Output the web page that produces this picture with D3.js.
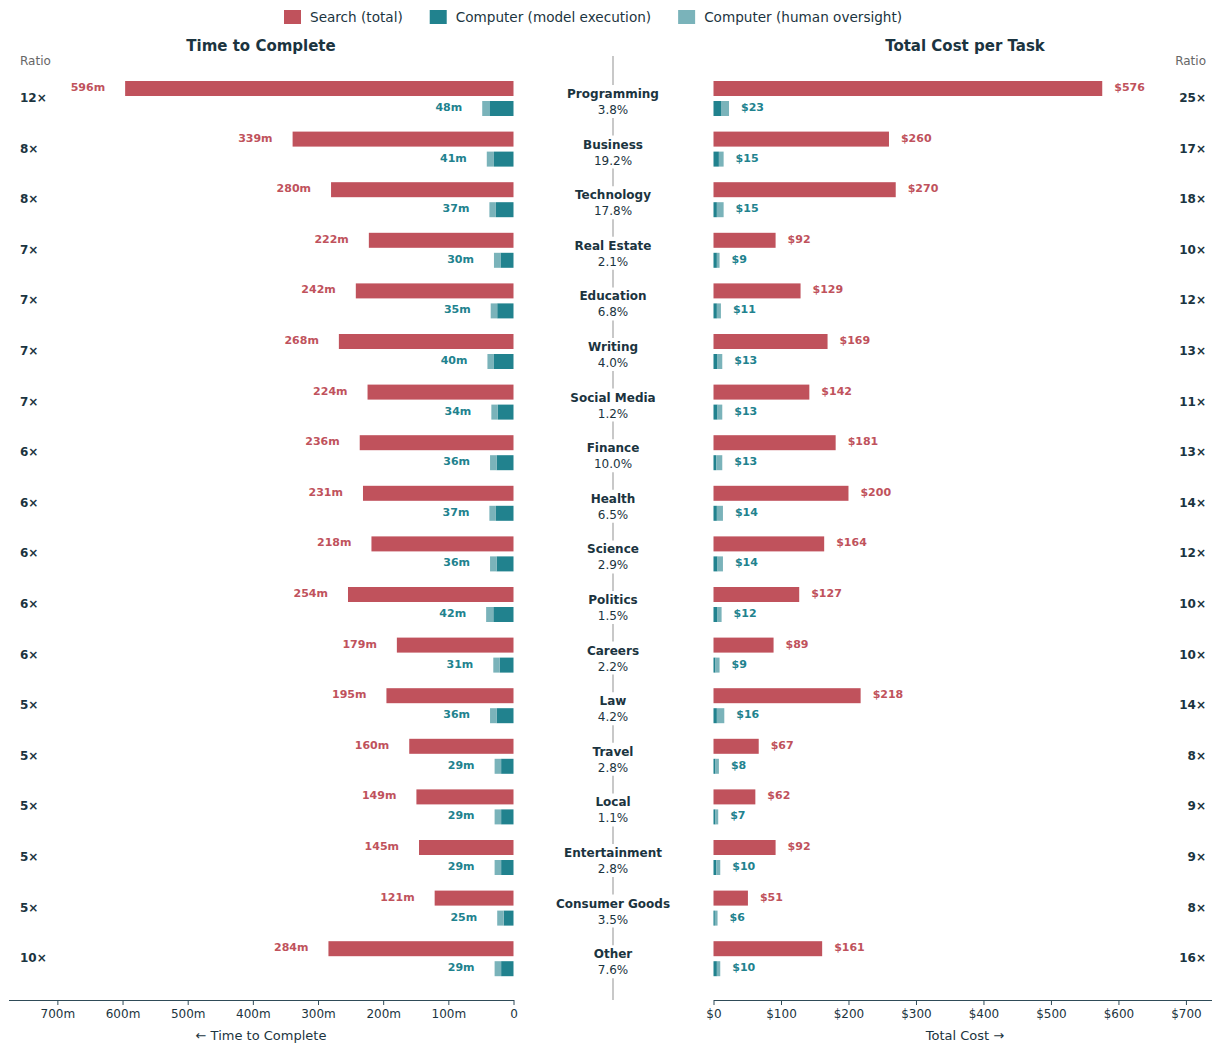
<!DOCTYPE html>
<html>
<head>
<meta charset="utf-8">
<script src="https://cdn.jsdelivr.net/npm/d3@7"></script>
<style>
  html, body { margin: 0; padding: 0; background: #fff; }
  svg { display: block; font-family: "DejaVu Sans", sans-serif; }
</style>
</head>
<body>
<svg id="chart" width="1212" height="1046"></svg>
<script>
const categories = ["Programming","Business","Technology","Real Estate","Education","Writing","Social Media","Finance","Health","Science","Politics","Careers","Law","Travel","Local","Entertainment","Consumer Goods","Other"];
const shares = ["3.8%","19.2%","17.8%","2.1%","6.8%","4.0%","1.2%","10.0%","6.5%","2.9%","1.5%","2.2%","4.2%","2.8%","1.1%","2.8%","3.5%","7.6%"];
const searchTime = [596,339,280,222,242,268,224,236,231,218,254,179,195,160,149,145,121,284];
const compModelTime = [37,30,27,20,25,30,24,26,27,26,31,21,26,19,19,19,15,19];
const compOversightTime = [11,11,10,10,10,10,10,10,10,10,11,10,10,10,10,10,10,10];
const searchCost = [576,260,270,92,129,169,142,181,200,164,127,89,218,67,62,92,51,161];
const compModelCost = [12,8,5,5,5,6,6,4,5,6,6,3,5,3,3,4,2,5];
const compOversightCost = [11,7,10,4,6,7,7,9,9,8,6,6,11,5,4,6,4,5];
const timeRatio = ["12×","8×","8×","7×","7×","7×","7×","6×","6×","6×","6×","6×","5×","5×","5×","5×","5×","10×"];
const costRatio = ["25×","17×","18×","10×","12×","13×","11×","13×","14×","12×","10×","10×","14×","8×","9×","9×","8×","16×"];
const timeTicks = [0,100,200,300,400,500,600,700];
const costTicks = [0,100,200,300,400,500,600,700];
const legendLabels = ["Search (total)","Computer (model execution)","Computer (human oversight)"];

const C_RED = "#c0525c", C_TEAL = "#21828e", C_LIGHT = "#7ab3ba";
const C_TEXT = "#1b3440", C_AXIS = "#2f4b58";

const svg = d3.select("#chart");

const xL = d3.scaleLinear().domain([0, 775]).range([513.5, 8.5]);
const xR = d3.scaleLinear().domain([0, 749]).range([713.5, 1219]);
const y = d3.scaleBand().domain(categories).range([73, 73 + 18 * 50.6]);
const BAR_H = 15, RED_OFF = 8, TEAL_OFF = 28;

const rows = categories.map((c, i) => ({
  c, i, share: shares[i],
  st: searchTime[i], mt: compModelTime[i], ot: compOversightTime[i],
  sc: searchCost[i], mc: compModelCost[i], oc: compOversightCost[i],
  tr: timeRatio[i], cr: costRatio[i]
}));

// Legend
const legColors = [C_RED, C_TEAL, C_LIGHT];
const leg = svg.append("g");
let lx = 284;
legendLabels.forEach((lab, i) => {
  leg.append("rect").attr("x", lx).attr("y", 10).attr("width", 17).attr("height", 14).attr("fill", legColors[i]);
  const t = leg.append("text").attr("x", lx + 26).attr("y", 17.5).attr("dominant-baseline", "middle")
    .attr("font-size", 13.6).attr("fill", C_TEXT).text(lab);
  lx += 26 + t.node().getComputedTextLength() + 27;
});

// Titles
svg.append("text").attr("x", 261).attr("y", 46.5).attr("text-anchor", "middle").attr("dominant-baseline", "middle")
  .attr("font-size", 15).attr("font-weight", "bold").attr("fill", C_TEXT).text("Time to Complete");
svg.append("text").attr("x", 965).attr("y", 46.5).attr("text-anchor", "middle").attr("dominant-baseline", "middle")
  .attr("font-size", 15).attr("font-weight", "bold").attr("fill", C_TEXT).text("Total Cost per Task");
svg.append("text").attr("x", 20).attr("y", 61.5).attr("dominant-baseline", "middle")
  .attr("font-size", 12).attr("fill", "#666").text("Ratio");
svg.append("text").attr("x", 1206).attr("y", 61.5).attr("text-anchor", "end").attr("dominant-baseline", "middle")
  .attr("font-size", 12).attr("fill", "#666").text("Ratio");

// Center line segments
const segs = [];
segs.push([56, y(categories[0]) + 12]);
for (let i = 0; i < categories.length - 1; i++) segs.push([y(categories[i]) + 45, y(categories[i + 1]) + 12]);
segs.push([y(categories[categories.length - 1]) + 45, 1000]);
svg.append("g").selectAll("line").data(segs).join("line")
  .attr("x1", 613).attr("x2", 613).attr("y1", d => d[0]).attr("y2", d => d[1])
  .attr("stroke", "#c8c8c8").attr("stroke-width", 2);

const g = svg.append("g").selectAll("g.row").data(rows).join("g").attr("class", "row");

// Left: time
g.append("rect").attr("x", d => xL(d.st)).attr("y", d => y(d.c) + RED_OFF)
  .attr("width", d => xL(0) - xL(d.st)).attr("height", BAR_H).attr("fill", C_RED);
g.append("rect").attr("x", d => xL(d.mt)).attr("y", d => y(d.c) + TEAL_OFF)
  .attr("width", d => xL(0) - xL(d.mt)).attr("height", BAR_H).attr("fill", C_TEAL);
g.append("rect").attr("x", d => xL(d.mt + d.ot)).attr("y", d => y(d.c) + TEAL_OFF)
  .attr("width", d => xL(d.mt) - xL(d.mt + d.ot)).attr("height", BAR_H).attr("fill", C_LIGHT);
g.append("text").attr("x", d => xL(d.st) - 20).attr("y", d => y(d.c) + RED_OFF + BAR_H / 2 - 0.5)
  .attr("text-anchor", "end").attr("dominant-baseline", "middle").attr("font-size", 11).attr("font-weight", "bold")
  .attr("fill", C_RED).text(d => d.st + "m");
g.append("text").attr("x", d => xL(d.mt + d.ot) - 20).attr("y", d => y(d.c) + TEAL_OFF + BAR_H / 2 - 0.5)
  .attr("text-anchor", "end").attr("dominant-baseline", "middle").attr("font-size", 11).attr("font-weight", "bold")
  .attr("fill", C_TEAL).text(d => (d.mt + d.ot) + "m");

// Right: cost
g.append("rect").attr("x", xR(0)).attr("y", d => y(d.c) + RED_OFF)
  .attr("width", d => xR(d.sc) - xR(0)).attr("height", BAR_H).attr("fill", C_RED);
g.append("rect").attr("x", xR(0)).attr("y", d => y(d.c) + TEAL_OFF)
  .attr("width", d => xR(d.mc) - xR(0)).attr("height", BAR_H).attr("fill", C_TEAL);
g.append("rect").attr("x", d => xR(d.mc)).attr("y", d => y(d.c) + TEAL_OFF)
  .attr("width", d => xR(d.mc + d.oc) - xR(d.mc)).attr("height", BAR_H).attr("fill", C_LIGHT);
g.append("text").attr("x", d => xR(d.sc) + 12).attr("y", d => y(d.c) + RED_OFF + BAR_H / 2 - 0.5)
  .attr("dominant-baseline", "middle").attr("font-size", 11).attr("font-weight", "bold")
  .attr("fill", C_RED).text(d => "$" + d.sc);
g.append("text").attr("x", d => xR(d.mc + d.oc) + 12).attr("y", d => y(d.c) + TEAL_OFF + BAR_H / 2 - 0.5)
  .attr("dominant-baseline", "middle").attr("font-size", 11).attr("font-weight", "bold")
  .attr("fill", C_TEAL).text(d => "$" + (d.mc + d.oc));

// Center labels
g.append("text").attr("x", 613).attr("y", d => y(d.c) + 21.5).attr("text-anchor", "middle").attr("dominant-baseline", "middle")
  .attr("font-size", 12).attr("font-weight", "bold").attr("fill", C_TEXT).text(d => d.c);
g.append("text").attr("x", 613).attr("y", d => y(d.c) + 37.5).attr("text-anchor", "middle").attr("dominant-baseline", "middle")
  .attr("font-size", 12).attr("fill", C_TEXT).text(d => d.share);

// Ratios
g.append("text").attr("x", 20).attr("y", d => y(d.c) + 25.5).attr("dominant-baseline", "middle")
  .attr("font-size", 12).attr("font-weight", "bold").attr("fill", C_TEXT).text(d => d.tr);
g.append("text").attr("x", 1206).attr("y", d => y(d.c) + 25.5).attr("text-anchor", "end").attr("dominant-baseline", "middle")
  .attr("font-size", 12).attr("font-weight", "bold").attr("fill", C_TEXT).text(d => d.cr);

// Axes
const axL = d3.axisBottom(xL).tickValues(timeTicks).tickSize(5).tickSizeOuter(0)
  .tickFormat(d => d === 0 ? "0" : d + "m");
const axR = d3.axisBottom(xR).tickValues(costTicks).tickSize(5).tickSizeOuter(0)
  .tickFormat(d => "$" + d);
[axL, axR].forEach(ax => {
  const a = svg.append("g").attr("transform", "translate(0,1000)").call(ax);
  a.select(".domain").attr("stroke", C_AXIS).attr("stroke-width", 1.2);
  a.selectAll(".tick line").attr("stroke", C_AXIS);
  a.selectAll(".tick text").attr("font-family", "DejaVu Sans").attr("font-size", 12).attr("fill", C_TEXT).attr("dy", "0.85em");
});
svg.append("text").attr("x", 261).attr("y", 1036).attr("text-anchor", "middle").attr("dominant-baseline", "middle")
  .attr("font-size", 13).attr("fill", C_TEXT).text("← Time to Complete");
svg.append("text").attr("x", 965).attr("y", 1036).attr("text-anchor", "middle").attr("dominant-baseline", "middle")
  .attr("font-size", 13).attr("fill", C_TEXT).text("Total Cost →");
</script>
</body>
</html>
